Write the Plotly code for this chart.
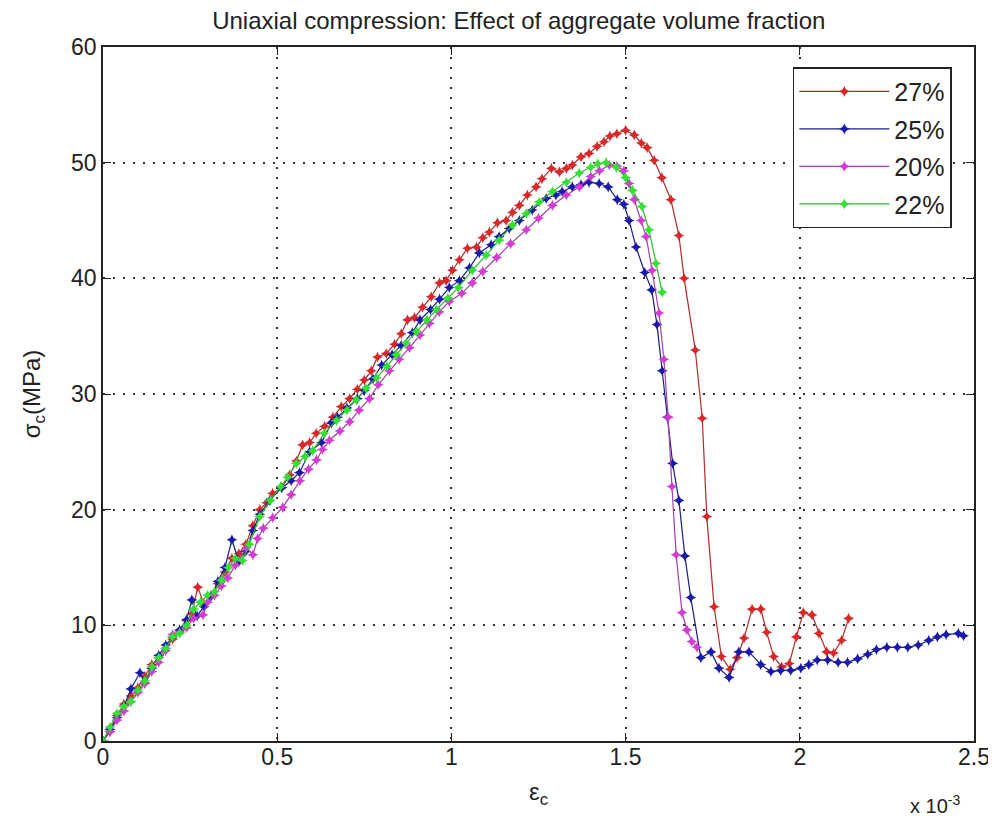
import plotly.graph_objects as go

# strain values in units of 1e-3, stress in MPa
eps_27 = [0.00, 0.02, 0.04, 0.06, 0.08, 0.10, 0.12, 0.14, 0.16, 0.18, 0.20, 0.22, 0.24, 0.255, 0.272,
          0.29, 0.31, 0.33, 0.35, 0.37, 0.39, 0.41, 0.43, 0.45, 0.47, 0.487, 0.513, 0.536, 0.555, 0.573,
          0.593, 0.612, 0.636, 0.66, 0.684, 0.708, 0.73, 0.75, 0.77, 0.788, 0.813, 0.837, 0.856, 0.874,
          0.894, 0.917, 0.942, 0.966, 0.985, 1.003, 1.023, 1.046, 1.072, 1.09, 1.109, 1.132, 1.157,
          1.175, 1.195, 1.218, 1.243, 1.26, 1.287, 1.31, 1.33, 1.347, 1.372, 1.395, 1.418, 1.438,
          1.455, 1.475, 1.50, 1.525, 1.545, 1.562, 1.582, 1.604, 1.63, 1.653, 1.668, 1.70, 1.72,
          1.733, 1.754, 1.775, 1.80, 1.82, 1.84, 1.863, 1.888, 1.905, 1.925, 1.948, 1.97, 1.99,
          2.01, 2.035, 2.055, 2.077, 2.097, 2.12, 2.14]
sig_27 = [0.0, 0.8, 2.2, 3.2, 3.9, 4.6, 5.6, 6.6, 7.2, 8.0, 8.8, 9.5, 10.4, 11.0, 13.3,
          11.8, 12.6, 13.6, 14.6, 15.8, 16.2, 17.0, 18.6, 20.0, 20.6, 21.4, 21.9, 23.0, 24.2, 25.6,
          25.8, 26.6, 27.2, 28.0, 28.9, 29.6, 30.4, 31.2, 32.0, 33.2, 33.5, 34.3, 35.2, 36.4,
          36.6, 37.5, 38.4, 39.6, 39.8, 40.7, 41.6, 42.6, 42.7, 43.5, 44.0, 44.8, 45.0,
          45.7, 46.3, 47.2, 47.9, 48.6, 49.5, 49.2, 49.5, 49.8, 50.5, 50.8, 51.4, 51.8,
          52.3, 52.5, 52.8, 52.4, 51.7, 51.3, 50.2, 48.7, 46.8, 43.7, 40.0, 33.8, 27.9,
          19.4, 11.6, 7.3, 6.2, 7.2, 8.9, 11.4, 11.4, 9.4, 7.3, 6.4, 6.7, 9.0,
          11.1, 10.9, 9.3, 7.7, 7.6, 8.7, 10.6]

eps_25 = [0.00, 0.02, 0.04, 0.06, 0.08, 0.106, 0.12, 0.14, 0.16, 0.18, 0.20, 0.22, 0.24, 0.255, 0.27,
          0.29, 0.31, 0.33, 0.35, 0.37, 0.39, 0.41, 0.43, 0.45, 0.478, 0.513, 0.54, 0.564, 0.593,
          0.627, 0.656, 0.673, 0.70, 0.73, 0.75, 0.775, 0.80, 0.83, 0.856, 0.888, 0.91, 0.94, 0.966,
          0.994, 1.023, 1.052, 1.08, 1.114, 1.137, 1.166, 1.195, 1.232, 1.272, 1.30, 1.318, 1.347,
          1.372, 1.395, 1.424, 1.45, 1.476, 1.495, 1.51, 1.53, 1.555, 1.575, 1.59, 1.605, 1.62,
          1.635, 1.653, 1.67, 1.687, 1.716, 1.745, 1.768, 1.797, 1.825, 1.854, 1.888, 1.917,
          1.945, 1.974, 2.003, 2.026, 2.05, 2.08, 2.11, 2.137, 2.166, 2.195, 2.22, 2.25, 2.28,
          2.31, 2.34, 2.37, 2.395, 2.42, 2.455, 2.47]
sig_25 = [0.0, 1.0, 2.0, 3.0, 4.5, 5.9, 5.0, 6.3, 7.4, 8.3, 9.0, 9.6, 10.5, 12.2, 10.8,
          11.6, 12.5, 13.8, 15.0, 17.4, 15.5, 16.4, 18.2, 19.6, 20.8, 21.9, 22.5, 23.2, 25.0,
          25.8, 27.5, 28.0, 28.8, 29.6, 30.3, 31.3, 32.5, 33.4, 34.2, 35.3, 36.4, 37.3, 38.2,
          39.2, 39.8, 40.9, 42.2, 42.9, 43.6, 44.3, 45.0, 45.9, 46.9, 47.2, 47.5, 47.9,
          48.1, 48.3, 48.2, 47.9, 46.8, 46.4, 45.0, 42.7, 40.5, 39.0, 36.0, 32.0, 28.0,
          24.0, 20.8, 16.0, 12.4, 7.2, 7.7, 6.3, 5.5, 7.7, 7.7, 6.6, 6.0,
          6.1, 6.1, 6.3, 6.6, 7.0, 7.0, 6.8, 6.8, 7.1, 7.5, 7.9, 8.1, 8.1,
          8.1, 8.3, 8.7, 9.0, 9.2, 9.3, 9.1]

eps_20 = [0.00, 0.02, 0.04, 0.06, 0.08, 0.10, 0.12, 0.14, 0.16, 0.18, 0.20, 0.22, 0.24, 0.26, 0.287,
          0.30, 0.32, 0.34, 0.358, 0.38, 0.412, 0.43, 0.444, 0.46, 0.487, 0.516, 0.54, 0.565, 0.59,
          0.613, 0.63, 0.65, 0.68, 0.708, 0.735, 0.765, 0.79, 0.822, 0.85, 0.88, 0.91, 0.937, 0.965,
          0.994, 1.03, 1.06, 1.09, 1.13, 1.17, 1.215, 1.25, 1.29, 1.33, 1.367, 1.40, 1.425, 1.453,
          1.475, 1.495, 1.51, 1.525, 1.545, 1.559, 1.576, 1.596, 1.61, 1.622, 1.633, 1.645, 1.662,
          1.676, 1.69, 1.705]
sig_20 = [0.0, 0.8, 1.8, 2.6, 3.4, 4.2, 5.0, 6.0, 6.8, 7.8, 9.2, 9.4, 9.8, 10.6, 10.9,
          12.0, 12.6, 13.4, 14.1, 15.2, 16.7, 16.1, 17.5, 18.4, 19.3, 20.2, 21.3, 22.5, 23.5,
          24.3, 25.2, 26.0, 26.8, 27.6, 28.6, 29.6, 30.8, 32.0, 33.0, 34.0, 35.1, 36.1, 37.1,
          38.0, 38.7, 39.6, 40.6, 41.8, 43.0, 44.2, 45.2, 46.3, 47.2, 47.9, 48.8, 49.3, 49.8,
          49.7, 49.3, 48.2, 46.8, 45.0, 43.6, 40.7, 37.0, 33.0, 28.0, 22.0, 16.1, 11.1,
          9.6, 8.6, 8.1]

eps_22 = [0.00, 0.02, 0.04, 0.06, 0.08, 0.10, 0.12, 0.14, 0.16, 0.18, 0.20, 0.22, 0.24, 0.26, 0.28,
          0.30, 0.32, 0.34, 0.36, 0.38, 0.40, 0.42, 0.45, 0.48, 0.51, 0.53, 0.555, 0.58, 0.602,
          0.635, 0.67, 0.70, 0.727, 0.755, 0.785, 0.815, 0.842, 0.87, 0.90, 0.93, 0.957, 0.99,
          1.02, 1.06, 1.10, 1.137, 1.175, 1.215, 1.252, 1.29, 1.33, 1.367, 1.40, 1.42, 1.444,
          1.473, 1.50, 1.52, 1.547, 1.567, 1.587, 1.605]
sig_22 = [0.0, 1.2, 2.4, 3.0, 3.4, 4.4, 5.2, 6.4, 7.2, 8.0, 9.0, 9.3, 10.0, 11.4, 12.0,
          12.6, 12.9, 13.9, 15.0, 15.8, 15.6, 17.0, 19.4, 20.8, 22.0, 22.8, 24.0, 24.6, 25.1,
          26.6, 27.7, 28.6, 29.5, 30.5, 31.4, 32.4, 33.4, 34.4, 35.4, 36.4, 37.3, 38.3,
          39.2, 40.7, 42.0, 43.3, 44.6, 45.6, 46.6, 47.5, 48.3, 49.1, 49.6, 49.9, 50.0,
          49.6, 48.7, 47.6, 46.2, 44.2, 41.3, 38.8]

series = [
    ("27%", eps_27, sig_27, "#b02a2a", "#d8282a"),
    ("25%", eps_25, sig_25, "#1c1c8c", "#1a1aa8"),
    ("20%", eps_20, sig_20, "#a040a8", "#d23cd2"),
    ("22%", eps_22, sig_22, "#2fb82f", "#33e033"),
]

fig = go.Figure()
for i, (name, x, y, lc, mc) in enumerate(series):
    fig.add_trace(
        go.Scatter(
            x=x,
            y=y,
            mode="lines+markers",
            name=name,
            legendgroup=str(i),
            line=dict(color=lc, width=1.2),
            marker=dict(symbol="star-diamond", size=8, color=mc),
        )
    )

fam = "Liberation Sans, Arial, sans-serif"

# page body has an 8px margin, so the figure is 8px smaller than the window
fig.update_layout(
    width=988,
    height=812,
    paper_bgcolor="white",
    plot_bgcolor="white",
    margin=dict(l=95, r=22, t=39, b=79),
    font=dict(family=fam, size=23, color="#222"),
    title=dict(
        text="Uniaxial compression: Effect of aggregate volume fraction",
        x=0.517,
        xanchor="center",
        y=0.985,
        yanchor="middle",
        font=dict(family=fam, size=24, color="#222"),
    ),
    showlegend=True,
    legend=dict(
        x=0.792,
        y=0.971,
        xanchor="left",
        yanchor="top",
        bgcolor="white",
        bordercolor="#222",
        borderwidth=1.5,
        font=dict(family=fam, size=25, color="#222"),
        tracegroupgap=2,
        itemwidth=90,
    ),
)

axis_style = dict(
    ticks="inside",
    ticklen=8,
    tickcolor="#222",
    showline=True,
    linecolor="#222",
    linewidth=1.5,
    mirror="allticks",
    showgrid=True,
    gridcolor="#333",
    griddash="2px,8px",
    gridwidth=1.5,
    zeroline=False,
    automargin=False,
)

fig.update_xaxes(
    range=[0, 2.5],
    tickvals=[0, 0.5, 1, 1.5, 2, 2.5],
    ticktext=["0", "0.5", "1", "1.5", "2", "2.5"],
    ticklabelstandoff=-5,
    title=dict(text="ε<sub>c</sub>", standoff=14, font=dict(size=24)),
    **axis_style,
)
fig.update_yaxes(
    range=[0, 60],
    tickvals=[0, 10, 20, 30, 40, 50, 60],
    title=dict(text="σ<sub>c</sub>(MPa)", standoff=24, font=dict(size=24)),
    **axis_style,
)

fig.add_annotation(
    text="x 10<sup>-3</sup>",
    xref="paper",
    yref="paper",
    x=0.955,
    y=-0.092,
    xanchor="center",
    yanchor="middle",
    showarrow=False,
    font=dict(size=20, color="#222"),
)

fig.write_html("out.html")
